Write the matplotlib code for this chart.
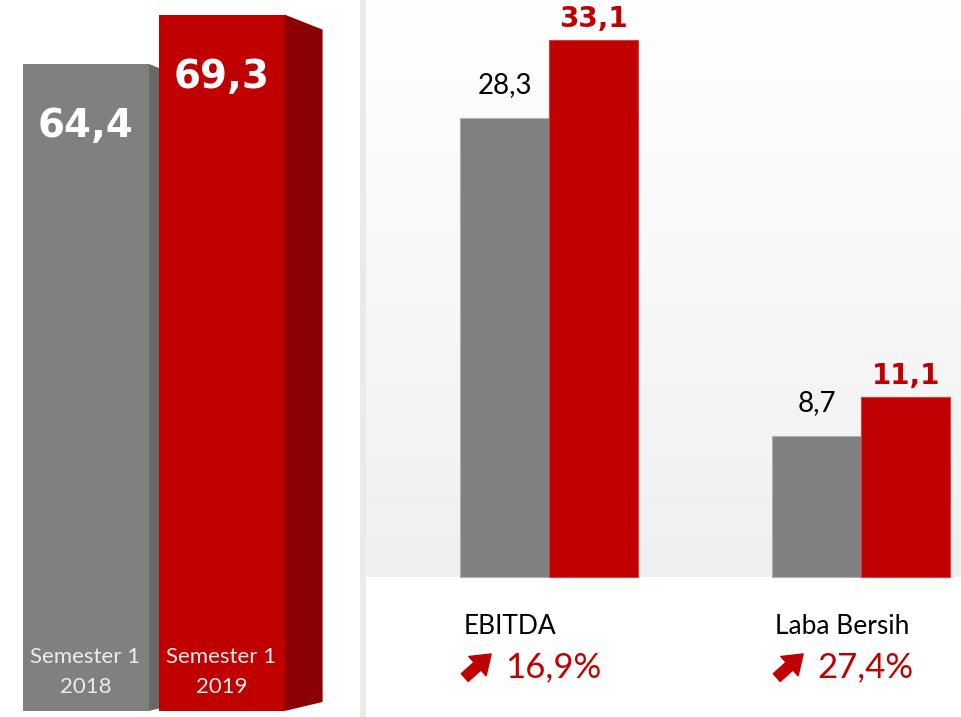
import numpy as np
import matplotlib
matplotlib.use('Agg')
import matplotlib.pyplot as plt
from matplotlib.patches import Polygon, Rectangle
from matplotlib.colors import LinearSegmentedColormap
from matplotlib.transforms import offset_copy

# data
sem_labels = ['Semester 1\n2018', 'Semester 1\n2019']
sem_values = [64.4, 69.3]
sem_text = ['64,4', '69,3']

kategori = ['EBITDA', 'Laba Bersih']
nilai_2018 = [28.3, 8.7]
nilai_2019 = [33.1, 11.1]
label_2018 = ['28,3', '8,7']
label_2019 = ['33,1', '11,1']
pertumbuhan = ['16,9%', '27,4%']

abu = '#808080'
abu_sisi = '#686868'
merah = '#c00000'
merah_sisi = '#8b0000'

fig = plt.figure(figsize=(9.61, 7.17), dpi=100)

# panel kiri: batang "3D"
ax1 = fig.add_axes([0, 0, 360 / 961, 1])
w = 0.926
dx = 0.28
warna = [(abu, abu_sisi), (merah, merah_sisi)]
for i, v in enumerate(sem_values):
    depan, sisi = warna[i]
    x0 = i + w / 2
    ax1.add_patch(Polygon([(x0, 0), (x0 + dx, 0.9), (x0 + dx, v - 1.5), (x0, v)],
                          closed=True, facecolor=sisi, edgecolor='none', zorder=2 * i + 1))
    ax1.bar(i, v, width=w, color=depan, zorder=2 * i + 2)
    ax1.text(i, v - 6.2, sem_text[i], color='white', fontsize=28, fontweight='bold',
             ha='center', va='center', zorder=10)
    ax1.text(i, 3.9, sem_labels[i], color='#ececec', fontsize=16, family='Lato',
             ha='center', va='center', linespacing=1.6, zorder=10)
ax1.set_xlim(-0.629, 2.018)
ax1.set_ylim(-0.597, 70.75)
ax1.axis('off')

# garis pemisah
fig.add_artist(Rectangle((360 / 961, 0), 6 / 961, 1, transform=fig.transFigure,
                         facecolor='#ecebe3', edgecolor='none'))

# panel kanan
ax2 = fig.add_axes([366 / 961, 0, 595 / 961, 1])
xl = (-0.587, 1.32)
yl = (-8.63, 35.57)
grad = np.linspace(0, 1, 256).reshape(-1, 1)
cmap = LinearSegmentedColormap.from_list('bg', ['#f0f0f0', '#ffffff'])
ax2.imshow(grad, extent=[xl[0], xl[1], 0, yl[1]], origin='lower', aspect='auto',
           cmap=cmap, zorder=0)

x = np.arange(len(kategori))
bw = 0.285
ax2.bar(x - bw / 2, nilai_2018, bw, color=abu, edgecolor='#b0b0b0', linewidth=0.8, zorder=2)
ax2.bar(x + bw / 2, nilai_2019, bw, color=merah, edgecolor='#d04040', linewidth=0.8, zorder=2)

for i in range(len(kategori)):
    ax2.text(x[i] - bw / 2, nilai_2018[i] + 1.2, label_2018[i], family='Lato', fontsize=20,
             color='black', ha='center', va='bottom')
    ax2.text(x[i] + bw / 2, nilai_2019[i] + 0.45, label_2019[i], fontsize=20,
             fontweight='bold', color=merah, ha='center', va='bottom')
    xk = x[i] - bw + 0.01
    ax2.text(xk, -3.51, kategori[i], family='Lato', fontsize=19, color='black',
             ha='left', va='baseline')
    # panah tebal naik
    ax2.annotate('', xy=(xk, -6.2), xycoords=offset_copy(ax2.transData, fig, x=20, y=17, units='points'),
                 xytext=(xk, -6.2), textcoords=offset_copy(ax2.transData, fig, x=1, y=0, units='points'),
                 arrowprops=dict(arrowstyle='simple,head_length=0.6,head_width=0.85,tail_width=0.34',
                                 color=merah, shrinkA=0, shrinkB=0, mutation_scale=22))
    ax2.annotate(pertumbuhan[i], xy=(xk, -6.2), xytext=(30, 0), textcoords='offset points',
                 family='Lato', fontsize=25, color=merah, ha='left', va='baseline')

ax2.set_xlim(*xl)
ax2.set_ylim(*yl)
ax2.axis('off')

fig.savefig('out.png', dpi=100)
